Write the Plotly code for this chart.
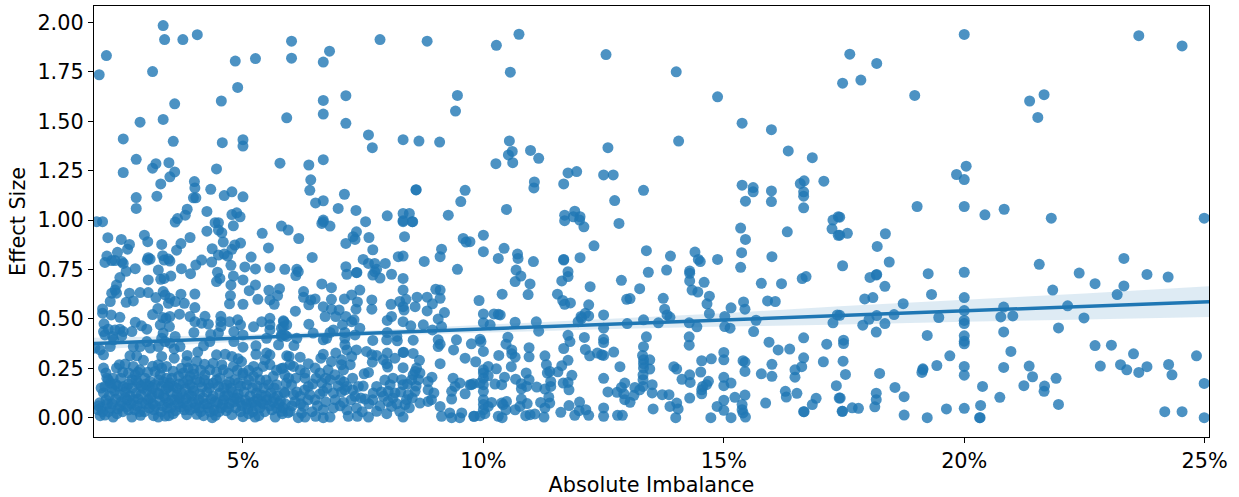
import plotly.graph_objects as go

points_far_right = [
(20.0,1.94),(23.63,1.934),(24.53,1.882),(17.62,1.84),(18.18,1.793),(17.47,1.693),(17.85,1.709),(18.97,1.631),(21.36,1.603),(21.66,1.635),(21.53,1.52),
(20.04,1.273),(19.84,1.231),(20.0,1.205),(19.02,1.069),(20.0,1.069),(20.43,1.027),(20.83,1.055),(21.81,1.01),(24.99,1.01),(17.41,1.015),(17.57,.933),(17.41,.924),
(18.36,.931),(18.19,.867),(17.47,.769),(18.44,.788),(18.18,.725),(18.17,.722),(18.04,.71),(18.35,.665),(19.25,.729),(20.0,.736),(21.56,.776),(22.39,.732),(23.32,.806),
(23.8,.725),(24.24,.712),(22.72,.678),(23.32,.667),(21.84,.646),(19.32,.624),(20.0,.608),(23.18,.623),(17.93,.601),(18.1,.608),(18.73,.577),(20.82,.56),(22.15,.566),
(20.0,.542),(17.41,.518),(18.18,.517),(18.54,.522),(18.02,.498),(19.47,.507),(20.76,.51),(21.01,.515),(22.49,.505),(20.0,.492),(20.0,.476),(18.35,.476),(17.89,.468),
(21.96,.454),(18.17,.433),(20.82,.434),(19.23,.416),(20.0,.414),(17.49,.392),(17.49,.375),(20.0,.387),(20.0,.374),(22.72,.365),(23.06,.367),(20.97,.335),(19.7,.313),
(23.52,.323),(24.83,.313),(17.48,.286),(19.43,.264),(20.0,.259),(20.82,.254),(21.35,.261),(22.83,.261),(23.25,.268),(23.38,.242),(23.8,.258),(23.63,.229),(24.25,.269),
(24.32,.217),(19.14,.247),(19.12,.229),(19.14,.242),(17.53,.219),(18.24,.224),(20.0,.215),(21.42,.207),(21.91,.199),(21.24,.162),(21.67,.16),(21.66,.133),(20.38,.158),
(18.56,.153),(18.17,.124),(24.99,.173),(18.75,.106),(18.17,.091),(20.74,.103),(17.42,.099),(18.14,.055),(20.34,.062),(21.96,.067),(17.67,.05),(17.8,.047),(17.47,.032),
(19.63,.044),(20.0,.047),(18.75,.013),(19.23,0),(20.32,0),(20.33,0),(24.17,.03),(24.53,.03),(24.99,0),
]

points_middle_top = [
(10.74,1.941),(10.27,1.885),(12.55,1.838),(10.56,1.749),(14.01,1.751),(14.87,1.624),(15.38,1.491),(15.99,1.458),(10.54,1.401),(14.06,1.4),(10.6,1.348),(10.52,1.33),
(10.98,1.353),(11.15,1.313),(10.61,1.291),(10.26,1.286),(12.59,1.367),(16.34,1.35),(16.84,1.316),(11.76,1.239),(11.94,1.246),(12.5,1.229),(12.7,1.229),(11.67,1.183),
(11.06,1.193),(11.05,1.163),(13.33,1.151),(12.73,1.099),(10.48,1.054),(15.38,1.177),(15.61,1.165),(15.61,1.143),(15.99,1.148),(15.45,1.096),(15.99,1.094),(16.59,1.185),
(16.67,1.199),(16.66,1.143),(16.66,1.121),(17.08,1.197),(16.66,1.062),(17.38,1.017),(17.27,1.0),(11.69,1.025),(11.9,1.045),(12.01,1.017),(11.87,1.017),(11.69,.997),
]

points_middle_bottom = [
(12.09,.966),(12.0,1.0),(12.82,.983),(15.35,.96),(15.45,.902),(16.32,.941),(17.25,.956),(17.38,.923),(10.0,.924),(9.72,.891),(10.0,.84),(10.43,.857),(10.31,.806),(10.71,.828),
(10.72,.806),(11.04,.79),(10.68,.747),(10.78,.717),(10.66,.689),(10.97,.677),(10.93,.623),(10.39,.625),(9.91,.593),(11.67,.801),(11.67,.798),(12.01,.81),(12.3,.87),(13.39,.845),
(13.89,.818),(14.4,.838),(14.47,.801),(14.51,.79),(14.87,.801),(15.37,.835),(16.0,.815),(15.35,.761),(13.81,.747),(13.43,.736),(14.29,.742),(14.29,.731),(14.29,.692),(14.59,.685),
(11.76,.739),(11.76,.714),(11.63,.692),(12.22,.663),(12.87,.695),(13.25,.653),(14.34,.646),(14.46,.636),(15.78,.68),(16.2,.678),(16.63,.704),(16.71,.714),(11.54,.625),(11.65,.593),
(11.69,.574),(11.81,.581),(12.19,.571),(12.98,.599),(13.05,.603),(13.74,.604),(14.7,.615),(14.65,.576),(15.41,.586),(15.91,.591),(16.07,.588),(15.15,.556),(15.44,.549),(13.77,.549),
(13.82,.52),(13.88,.508),(14.7,.527),(15.02,.512),(10.0,.525),(10.22,.525),(10.31,.523),(10.35,.52),(10.0,.481),(10.14,.47),(10.66,.483),(11.1,.485),(12.5,.52),(12.12,.528),(12.19,.515),
(12.03,.512),(11.97,.486),(12.04,.503),(13.33,.495),(12.99,.476),(13.64,.48),(14.28,.48),(14.44,.46),(15.02,.461),(15.13,.453),(15.67,.493),(15.62,.436),(17.36,.52),(17.27,.48),(12.5,.453),
(11.15,.438),(10.51,.407),(11.76,.417),(11.8,.385),(12.1,.406),(12.5,.397),(12.5,.38),(13.39,.409),(14.28,.409),(14.28,.367),(15.94,.382),(16.66,.404),(17.14,.372),(16.13,.343),(16.37,.347),
(9.93,.397),(9.95,.385),(9.75,.374),(10.47,.372),(10.95,.354),(10.59,.343),(10.59,.323),(10.66,.306),(10.0,.335),(10.32,.315),(10.95,.308),(11.28,.313),(11.67,.35),(12.12,.345),(12.21,.313),
(12.37,.327),(12.46,.318),(12.5,.315),(12.71,.332),(13.33,.359),(13.31,.315),(13.33,.293),(13.33,.273),(13.33,.251),(13.46,.293),(13.46,.246),(15.0,.33),(15.0,.293),(14.54,.288),(14.74,.298),
(15.4,.288),(15.44,.281),(15.44,.234),(16.0,.27),(16.66,.303),(16.62,.258),(16.48,.242),(16.48,.205),(15.78,.222),(16.0,.209),(17.07,.283),(9.84,.283),(10.0,.242),(10.0,.226),(10.0,.2),
(10.1,.259),(10.1,.212),(10.27,.247),(10.58,.258),(10.44,.205),(10.67,.195),(10.89,.226),(10.95,.192),(10.79,.172),(10.79,.146),(10.9,.158),(11.31,.268),(11.38,.234),(11.33,.226),(11.55,.232),
(11.63,.263),(11.76,.29),(11.84,.214),(11.66,.175),(11.76,.178),(11.78,.141),(11.4,.183),(11.4,.158),(11.11,.155),(11.28,.145),(12.84,.258),(12.5,.199),(12.94,.175),(12.87,.153),(12.78,.128),
(12.59,.13),(12.92,.121),(12.94,.091),(13.05,.078),(13.15,.153),(13.13,.113),(13.32,.217),(13.32,.192),(13.32,.158),(13.25,.141),(13.51,.167),(13.51,.125),(13.72,.116),(13.86,.116),(13.96,.258),
(14.02,.246),(14.13,.194),(14.29,.217),(14.3,.178),(14.52,.231),(14.56,.158),(14.54,.141),(14.54,.121),(14.68,.184),(14.64,.167),(15.0,.204),(15.0,.162),(15.15,.175),(14.29,.099),(15.44,.114),
(15.23,.103),(15.0,.088),(14.86,.057),(15.0,.037),(15.38,.066),(15.38,.04),(15.4,.024),(15.45,.003),(14.73,0),(15.15,0),(15.87,.074),(16.28,.133),(16.3,.104),(16.52,.123),(16.92,.098),(16.84,.066),
(16.66,.03),(16.67,.03),(17.34,.162),(17.4,.099),(17.46,.032),(13.53,.044),(13.88,.057),(14.02,.074),(14.05,.044),(14.0,0),(12.5,.049),(12.5,.007),(12.79,.012),(12.89,.012),(12.19,.012),(12.0,.079),
(12.13,.04),(11.99,.035),(11.9,.012),(11.78,.061),(11.61,.027),(11.26,.003),(11.07,.019),(10.97,.015),(10.88,.01),(11.28,.049),(11.38,.074),(11.19,.077),(11.36,.104),(10.91,.071),(10.79,.094),
(10.76,.057),(10.66,.04),(10.48,.082),(10.38,.074),(10.41,.066),(10.47,.04),(10.31,.007),(10.39,0),(10.17,.077),(10.1,.057),(10.0,.133),(10.0,.091),(10.0,.066),(10.0,.04),(10.03,.02),(9.93,.01),
(9.8,.007),(10.24,.17),(10.38,.167),(9.79,.172),(9.72,.167),(10.0,.167),
]

points_left_top = [
(3.34,1.985),(3.37,1.914),(3.75,1.914),(4.05,1.939),(2.16,1.833),(2.01,1.736),(3.12,1.752),(4.84,1.805),(5.26,1.818),(6.01,1.906),(6.01,1.82),(6.8,1.855),(6.67,1.8),(7.85,1.914),(8.83,1.906),
(4.89,1.672),(3.58,1.589),(4.55,1.603),(6.67,1.606),(7.14,1.63),(6.67,1.537),(5.91,1.518),(7.14,1.49),(2.86,1.496),(3.34,1.51),(9.46,1.631),(9.42,1.552),(2.51,1.411),(3.55,1.399),(4.57,1.392),
(5.0,1.407),(5.0,1.375),(7.61,1.431),(7.69,1.367),(8.33,1.407),(8.66,1.4),(9.09,1.395),(2.78,1.308),(3.19,1.286),(3.12,1.263),(3.46,1.291),(3.58,1.244),(3.48,1.219),(2.51,1.241),(4.45,1.259),
(5.77,1.288),(6.37,1.279),(6.67,1.306),(3.29,1.183),(3.99,1.195),(4.0,1.163),(4.33,1.156),(4.77,1.143),(4.61,1.124),(5.0,1.118),(2.78,1.114),(3.21,1.121),(2.78,1.059),(3.97,1.113),(4.02,1.113),
(3.84,1.055),(4.25,1.044),(3.8,1.025),(3.64,1.008),(3.59,.99),(6.41,1.204),(6.39,1.151),(6.51,1.087),(6.67,1.098),(7.11,1.131),(6.98,1.059),(7.35,1.049),(8.6,1.153),(8.6,1.154),(9.62,1.151),
(9.53,1.094),(8.0,1.022),(8.33,1.034),(8.46,1.034),(9.27,1.025),(4.77,1.028),(4.87,1.037),(4.94,1.017),(6.67,.992),(7.55,.992),(8.33,.992),(8.52,.992),(1.96,.992),(2.08,.992),(4.42,.987),(4.49,.987),
]

points_left_bottom = [
(4.8,.971),(4.25,.944),(4.49,.95),(4.56,.936),(5.8,.97),(5.94,.95),(5.4,.933),(2.19,.911),(2.95,.924),(3.02,.891),(2.47,.902),(2.64,.877),(2.6,.853),(3.31,.877),(3.9,.912),(3.71,.881),(3.62,.848),
(4.59,.889),(4.95,.884),(4.83,.874),(4.77,.852),(4.36,.855),(5.53,.859),(2.39,.837),(2.17,.818),(2.13,.786),(2.27,.795),(2.34,.795),(2.48,.79),(2.51,.781),(2.57,.741),(2.76,.754),(3.03,.81),(3.07,.803),
(3.01,.798),(3.33,.82),(3.36,.798),(3.45,.803),(3.48,.793),(4.49,.823),(4.61,.828),(4.68,.818),(5.17,.813),(4.14,.798),(4.35,.788),(4.02,.773),(3.72,.754),(3.24,.747),(3.91,.729),(4.75,.771),(5.04,.763),
(5.26,.753),(5.56,.759),(5.87,.751),(4.47,.736),(4.8,.717),(3.5,.717),(3.29,.7),(3.36,.705),(3.03,.697),(2.44,.709),(2.37,.672),(2.34,.646),(2.37,.63),(2.27,.63),(4.45,.689),(4.52,.705),(5.0,.697),(4.75,.672),
(5.26,.672),(5.13,.643),(5.54,.645),(5.76,.653),(2.86,.633),(3.03,.633),(2.64,.63),(3.34,.638),(3.38,.621),(3.19,.608),(3.71,.625),(4.0,.626),(3.48,.604),(3.45,.579),(3.59,.588),(3.78,.579),(4.74,.618),(5.72,.618),
(2.24,.588),(2.57,.584),(2.72,.591),(4.72,.576),(5.0,.574),(5.31,.599),(5.56,.596),(5.65,.574),(4.0,.557),(2.08,.55),(2.08,.529),(2.26,.52),(2.44,.508),(3.23,.552),(3.12,.522),(3.68,.524),(3.9,.512),(4.21,.513),
(3.33,.507),(3.48,.512),(3.4,.503),(4.54,.513),(2.76,.483),(2.11,.475),(2.89,.465),(3.0,.448),(3.28,.47),(3.47,.461),(4.0,.486),(4.14,.478),(4.28,.473),(4.54,.486),(4.54,.461),(4.72,.486),(4.89,.495),(4.95,.47),
(5.39,.486),(5.56,.503),(5.56,.47),(5.56,.444),(5.84,.49),(5.22,.46),(5.91,.47),(5.8,.453),(2.1,.436),(2.2,.448),(2.13,.419),(2.34,.444),(2.44,.448),(2.51,.436),(2.69,.436),(2.48,.414),(2.29,.411),(3.34,.428),
(3.31,.402),(3.98,.431),(3.59,.411),(4.33,.421),(4.49,.428),(4.81,.436),(5.0,.419),(4.81,.385),(5.8,.419),(5.91,.411),(5.74,.369),(5.49,.402),(1.92,.352),(2.03,.343),(2.1,.318),(2.24,.36),(2.31,.394),(2.72,.36),
(2.86,.36),(3.07,.352),(3.0,.385),(3.24,.36),(3.38,.385),(3.48,.377),(3.69,.36),(4.18,.364),(4.31,.385),(3.57,.348),(4.06,.332),(3.84,.315),(3.31,.31),(3.57,.301),(2.65,.313),(2.79,.313),(4.45,.318),(4.63,.321),
(4.77,.31),(4.9,.298),(5.0,.357),(5.27,.364),(5.27,.321),(5.49,.327),(5.56,.318),(5.46,.293),(5.91,.313),(2.93,.29),(2.43,.268),(2.37,.251),(2.55,.271),(2.1,.251),(2.15,.226),(2.72,.259),(2.86,.242),(2.62,.226),
(2.76,.217),(3.24,.268),(3.31,.251),(3.17,.234),(3.41,.259),(3.83,.284),(3.86,.251),(3.76,.226),(3.9,.209),(4.04,.285),(3.97,.246),(4.38,.276),(4.31,.242),(4.56,.268),(4.59,.242),(4.8,.259),(4.97,.284),(5.0,.226),
(5.22,.259),(5.42,.259),(5.56,.268),(5.8,.249),(5.87,.217),(2.17,.2),(2.24,.175),(2.13,.158),(2.27,.15),(2.51,.158),(2.69,.192),(2.82,.175),(2.96,.2),(3.07,.183),(3.28,.217),(3.41,.2),(3.17,.167),(3.31,.158),(3.48,.175),
(3.66,.209),(3.76,.175),(3.62,.15),(3.9,.167),(4.04,.192),(4.21,.217),(4.38,.175),(4.52,.2),(4.66,.167),(4.49,.158),(4.83,.192),(5.0,.217),(5.22,.209),(5.08,.167),(5.35,.192),(5.63,.209),(5.53,.167),(5.7,.167),(5.9,.175),
]

points_left_floor = [
(2.03,.01),(2.13,.013),(2.3,.003),(2.69,.003),(2.87,.012),(3.14,.01),(3.24,.003),(3.38,.008),(3.46,.01),(3.83,.015),(4.04,.017),(4.18,.01),(4.36,0),(4.43,.012),(4.77,.015),(5.0,.005),(5.25,.003),(5.33,.01),(5.67,.003),(5.82,.02),(5.94,.025),
(1.98,.04),(2.05,.05),(2.2,.03),(2.4,.045),(2.5,.03),(2.58,.055),(2.75,.04),(2.95,.03),(3.05,.05),(3.15,.04),(3.3,.03),(3.5,.05),(3.6,.035),(3.7,.055),(3.9,.04),(4.0,.05),(4.12,.03),(4.28,.05),(4.4,.04),(4.55,.05),(4.65,.035),(4.85,.05),(4.95,.03),(5.1,.045),(5.2,.03),(5.35,.05),(5.45,.03),(5.55,.06),(5.7,.05),
(2.02,.075),(2.15,.09),(2.28,.07),(2.35,.095),(2.47,.08),(2.6,.09),(2.68,.07),(2.82,.095),(2.9,.075),(3.03,.09),(3.12,.07),(3.27,.085),(3.38,.1),(3.45,.075),(3.58,.09),(3.75,.075),(3.82,.095),(3.95,.08),(4.08,.09),(4.2,.07),(4.34,.095),(4.47,.075),(4.6,.09),(4.72,.07),(4.82,.1),(4.93,.08),(5.05,.09),(5.17,.075),(5.3,.095),(5.42,.07),(5.5,.09),(5.62,.08),(5.78,.085),(5.88,.07),
(2.1,.125),(2.22,.11),(2.33,.135),(2.43,.115),(2.55,.13),(2.65,.11),(2.78,.125),(2.88,.115),(3.0,.135),(3.1,.115),(3.22,.125),(3.35,.11),(3.5,.13),(3.63,.115),(3.72,.125),(3.88,.115),(3.98,.135),(4.1,.12),(4.25,.13),(4.38,.11),(4.52,.125),(4.68,.115),(4.78,.13),(4.9,.12),(5.02,.13),(5.15,.11),(5.28,.125),(5.38,.115),(5.58,.125),(5.72,.11),(5.85,.13),
(2.4,.16),(2.58,.15),(2.92,.15),(3.05,.16),(3.4,.145),(3.55,.16),(3.8,.145),(4.15,.155),(4.3,.15),(4.75,.15),(4.95,.16),(5.2,.15),(5.43,.15),
]

points_dense_extra = [
(2.0,.06),(2.08,.03),(2.18,.07),(2.25,.05),(2.38,.02),(2.45,.06),(2.55,.1),(2.62,.04),(2.72,.09),(2.8,.06),(2.85,.03),(2.98,.07),(3.08,.1),(3.18,.06),(3.25,.12),(3.33,.06),(3.42,.05),(3.52,.09),(3.55,.02),(3.65,.07),(3.68,.1),(3.78,.04),(3.85,.06),(3.93,.11),(4.02,.07),(4.1,.05),(4.17,.1),(4.25,.07),(4.32,.03),(4.42,.08),(4.5,.03),(4.58,.07),(4.62,.11),(4.7,.05),(4.8,.08),(4.88,.1),(4.98,.06),(5.08,.07),(5.12,.02),(5.23,.08),(5.27,.06),(5.38,.08),(5.48,.11),(5.6,.04),(5.65,.1),(5.75,.07),(5.83,.05),
(2.05,.15),(2.2,.19),(2.3,.2),(2.35,.17),(2.46,.2),(2.62,.17),(2.7,.15),(2.78,.19),(2.88,.16),(2.98,.17),(3.12,.15),(3.25,.19),(3.35,.18),(3.45,.155),(3.52,.2),(3.68,.17),(3.85,.19),(3.95,.155),(4.1,.18),(4.2,.19),(4.28,.17),(4.45,.19),(4.6,.15),(4.72,.18),(4.9,.175),(5.12,.19),(5.3,.16),(5.48,.19),(5.65,.15),
(2.5,.23),(2.82,.23),(3.02,.23),(3.12,.26),(3.55,.235),(3.72,.25),(3.98,.22),(4.12,.24),(4.2,.27),(4.45,.23),(4.7,.225),(4.88,.24),(5.12,.24),(5.3,.23),(5.7,.24),
(6.02,.06),(6.12,.13),(6.2,.07),(6.28,.14),(6.35,.09),(6.44,.03),(6.55,.06),(6.6,.12),(6.72,.08),(6.75,.15),(6.92,.09),(7.02,.06),(7.05,.13),(7.25,.09),(7.28,.14),(7.45,.1),(7.48,.03),(7.62,.07),(7.7,.09),(7.85,.06),(7.88,.13),(8.12,.1),(8.2,.07),(8.28,.13),(8.46,.05),(8.52,.1),
(6.45,.17),(6.52,.2),(6.72,.2),(6.98,.16),(7.1,.18),(7.28,.2),(7.5,.16),(7.95,.19),(8.12,.2),(8.42,.17),(8.6,.16),(6.1,.2),(5.95,.2),
]

points_centre_left = [
(6.16,.907),(6.44,.811),(6.67,1.0),(6.64,.983),(6.81,.97),(7.36,.941),(7.29,.916),(7.33,.902),(7.14,.882),(7.62,.912),(8.36,.916),(7.7,.85),(9.58,.907),(9.64,.889),(9.13,.853),(9.1,.815),(8.77,.791),(9.46,.751),
(8.33,.997),(8.53,.992),(8.23,.815),(8.33,.818),(7.5,.801),(7.61,.781),(7.74,.781),(7.74,.739),(7.78,.751),(7.96,.781),(7.14,.764),(7.16,.726),(7.36,.734),(7.37,.735),(8.09,.726),(7.7,.722),(7.85,.707),(8.33,.705),
(6.12,.751),(6.15,.739),(6.1,.719),(6.64,.677),(6.84,.658),(6.26,.638),(6.26,.609),(7.43,.646),(8.33,.646),(9.01,.65),(9.1,.646),(6.84,.599),(7.26,.621),(7.11,.601),(6.5,.601),(6.41,.596),(6.37,.571),(7.38,.586),
(7.35,.549),(7.68,.596),(7.68,.549),(8.08,.574),(8.26,.588),(8.39,.599),(8.62,.61),(8.58,.562),(8.33,.562),(8.35,.545),(8.83,.61),(8.94,.576),(9.1,.604),(8.83,.54),(9.19,.532),(6.67,.562),(6.09,.539),(6.84,.549),(7.0,.545),
(6.93,.512),(6.71,.512),(7.14,.512),(7.26,.486),(7.31,.495),(8.09,.512),(8.0,.492),(8.33,.486),(8.49,.465),(8.75,.47),(9.06,.5),(9.13,.461),(8.94,.444),(5.85,.486),(5.84,.461),(6.37,.473),(7.07,.47),(7.43,.453),(6.88,.444),
(6.81,.431),(6.46,.428),(7.12,.431),(7.12,.402),(7.33,.419),(8.0,.431),(8.2,.411),(6.67,.394),(6.74,.402),(6.12,.402),(5.87,.419),(5.8,.411),(7.7,.391),(7.99,.394),(8.21,.389),(8.54,.392),(9.06,.394),(9.06,.36),(9.1,.372),
(9.44,.394),(9.38,.343),(6.06,.365),(7.12,.369),(7.16,.343),(7.36,.343),(7.57,.335),(7.68,.318),(7.78,.315),(8.33,.33),(8.34,.331),(8.0,.327),(7.92,.293),(8.16,.301),(8.54,.325),(6.93,.327),(6.67,.321),(6.62,.301),(6.19,.306),
(5.96,.31),(9.62,.301),(6.84,.284),(7.05,.293),(7.05,.268),(7.23,.268),(7.09,.242),(7.26,.31),(7.69,.281),(7.99,.273),(8.01,.256),(8.33,.253),(8.67,.29),(8.61,.251),(9.1,.273),(5.84,.251),(5.98,.268),(6.05,.259),(6.36,.273),
(6.19,.242),(6.29,.226),(6.29,.2),(6.5,.251),(6.6,.226),(6.77,.242),(6.91,.217),(7.52,.222),(7.61,.229),(8.58,.234),(8.54,.217),(8.68,.226),(8.51,.192),(8.65,.192),(8.93,.205),(9.37,.2),(6.01,.167),(6.36,.158),(6.64,.175),
(6.81,.192),(7.02,.192),(7.16,.158),(7.4,.158),(7.78,.158),(8.06,.167),(8.3,.192),(8.33,.167),(8.85,.183),(9.51,.175),(9.75,.167),(9.41,.158),(9.93,.175),(9.34,.133),(9.62,.121),(9.34,.094),(8.97,.125),(8.85,.141),(8.92,.091),
(8.85,.082),(8.68,.074),(9.1,.057),(9.13,.007),(9.3,.024),(9.34,0),(9.55,.024),(9.51,0),(9.81,.007),(8.58,.133),(8.44,.116),(8.4,.091),(8.37,.066),(8.26,.032),(8.33,.003),(8.16,.125),(8.02,.133),(7.92,.108),(8.02,.082),(8.09,.057),
(7.99,.02),(7.78,.032),(7.61,.003),(7.71,.125),(7.54,.094),(7.36,.049),(7.38,.007),(7.33,.108),(7.16,.04),(7.19,.007),(7.09,.077),(6.88,.049),(7.12,.141),(6.88,.125),(6.67,.133),(6.5,.091),(6.67,.04),(6.67,0),(6.81,.003),(6.51,.007),
(6.19,.108),(6.08,.082),(6.26,.057),(6.22,.023),(6.29,.003),(6.15,0),(5.98,.032),(5.8,.032),(6.39,.116),(5.87,.125),(6.05,.116),
]

fit_x = [1.9, 5, 7.5, 10, 12.5, 15, 17.5, 20, 22.5, 25.09]
fit_y = [.375, .403, .427, .449, .472, .495, .518, .541, .563, .587]
ci_low = [.345, .386, .414, .429, .447, .461, .471, .486, .497, .509]
ci_high = [.405, .420, .440, .469, .497, .529, .565, .596, .629, .665]

x_ticks = [5, 10, 15, 20, 25]
x_tick_labels = ["5%", "10%", "15%", "20%", "25%"]
y_ticks = [0, .25, .5, .75, 1, 1.25, 1.5, 1.75, 2]
y_tick_labels = ["0.00", "0.25", "0.50", "0.75", "1.00", "1.25", "1.50", "1.75", "2.00"]

all_points = (points_far_right + points_middle_top + points_middle_bottom + points_left_top
              + points_left_bottom + points_left_floor + points_dense_extra + points_centre_left)
xs = [p[0] for p in all_points]
ys = [p[1] for p in all_points]

BLUE = "#1f77b4"
fig = go.Figure()
fig.add_trace(go.Scatter(x=xs, y=ys, mode="markers", showlegend=False,
                         marker=dict(size=11, color=BLUE, opacity=0.8, line=dict(width=0))))
fig.add_trace(go.Scatter(x=fit_x + fit_x[::-1], y=ci_high + ci_low[::-1], mode="lines", fill="toself",
                         fillcolor="rgba(31,119,180,0.15)", line=dict(width=0), showlegend=False))
fig.add_trace(go.Scatter(x=fit_x, y=fit_y, mode="lines", line=dict(color=BLUE, width=3.5), showlegend=False))

axis_common = dict(showgrid=False, zeroline=False, showline=True, linecolor="black", linewidth=1.3, mirror=True,
                   ticks="outside", ticklen=5, tickwidth=1.3, tickcolor="black",
                   tickfont=dict(size=20.8, color="black"))
fig.update_xaxes(range=[1.902, 25.09], tickvals=x_ticks, ticktext=x_tick_labels,
                 title=dict(text="Absolute Imbalance", font=dict(size=20.8, color="black"), standoff=3), **axis_common)
fig.update_yaxes(range=[-0.098, 2.084], tickvals=y_ticks, ticktext=y_tick_labels,
                 title=dict(text="Effect Size", font=dict(size=20.8, color="black"), standoff=6), **axis_common)
fig.update_layout(width=1239, height=497, margin=dict(l=94, r=29.5, t=6, b=60, autoexpand=False),
                  paper_bgcolor="white", plot_bgcolor="white",
                  font=dict(family="DejaVu Sans", color="black"))
fig.write_html("out.html", config=dict(displayModeBar=False), post_script="document.body.style.margin='0';")
